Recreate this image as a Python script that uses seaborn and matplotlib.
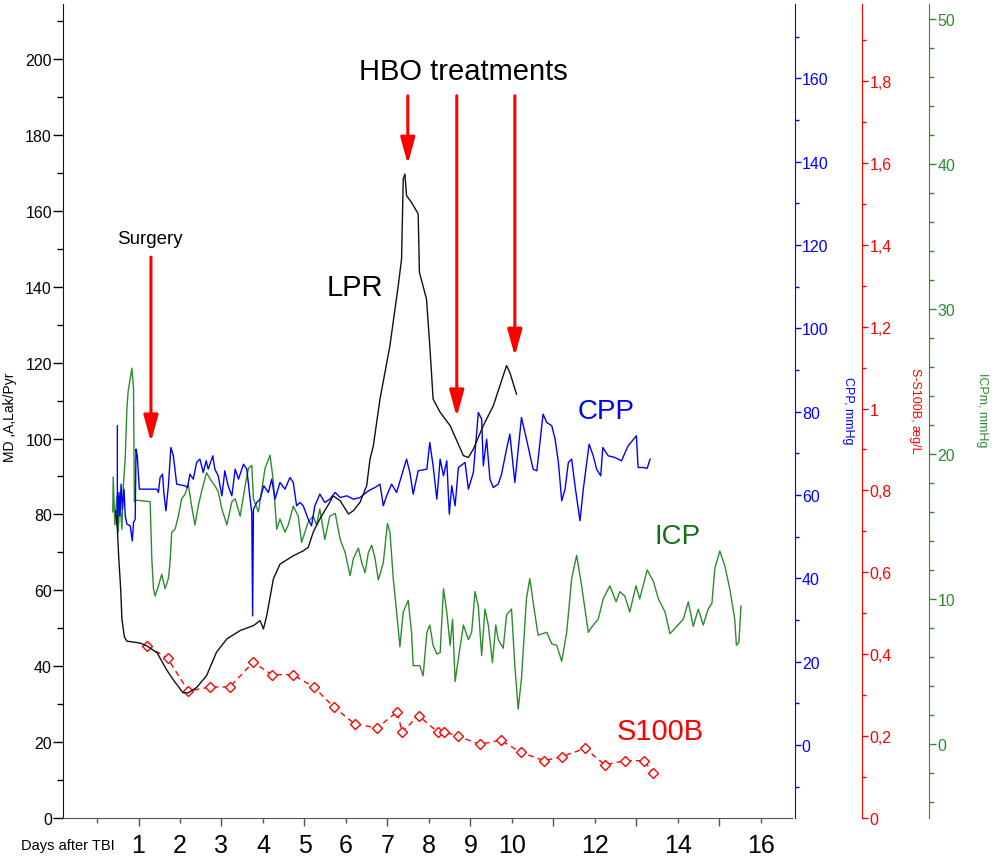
import matplotlib
matplotlib.use("Agg")
import matplotlib.pyplot as plt
import seaborn as sns
from matplotlib.ticker import MultipleLocator, FuncFormatter

plt.rcParams['font.family'] = ['Liberation Sans', 'DejaVu Sans']

# ---- values (x = days after TBI) ----
# LPR, left axis
lpr_day = [0.45, 0.49, 0.52, 0.57, 0.60, 0.66, 0.72, 1.04, 1.21, 1.45,
           1.68, 1.84, 2.07, 2.20, 2.40, 2.64, 2.88, 3.13, 3.45, 3.77,
           3.93, 4.01, 4.09, 4.25, 4.41, 4.73, 4.97, 5.09, 5.21, 5.37,
           5.61, 5.69, 5.86, 6.06, 6.18, 6.34, 6.50, 6.58, 6.66, 6.82,
           7.06, 7.26, 7.34, 7.38, 7.42, 7.46, 7.58, 7.74, 7.77, 7.94,
           8.02, 8.10, 8.27, 8.51, 8.83, 8.95, 9.07, 9.31, 9.55, 9.71,
           9.87, 9.95, 10.11]
lpr_val = [80.9, 76.2, 69.3, 60.3, 52.4, 47.7, 46.6, 46.1, 45.3, 43.5,
           39.0, 36.4, 33.0, 33.0, 34.4, 37.5, 43.7, 47.2, 49.4, 50.7,
           52.0, 49.8, 53.3, 63.0, 66.9, 69.1, 70.4, 71.3, 75.3, 78.8,
           83.2, 84.9, 83.6, 80.1, 81.0, 83.2, 87.6, 94.6, 98.1, 110.4,
           124.5, 140.3, 147.3, 168.4, 169.7, 164.0, 162.2, 159.2, 143.8, 136.8,
           124.5, 110.4, 106.9, 103.4, 95.5, 95.0, 97.2, 103.4, 108.6, 113.9,
           119.2, 117.4, 111.7]

# CPP, mmHg (blue axis)
cpp_day = [0.49, 0.49, 0.53, 0.55, 0.58, 0.61, 0.65, 0.68, 0.72, 0.80,
           0.85, 0.88, 0.92, 0.94, 0.97, 1.02, 1.44, 1.48, 1.52, 1.58,
           1.61, 1.66, 1.72, 1.78, 1.84, 1.92, 2.12, 2.18, 2.24, 2.32,
           2.40, 2.48, 2.56, 2.63, 2.68, 2.79, 2.84, 2.92, 3.01, 3.08,
           3.16, 3.25, 3.33, 3.41, 3.53, 3.61, 3.69, 3.73, 3.75, 3.77,
           3.85, 3.93, 4.02, 4.13, 4.21, 4.29, 4.41, 4.53, 4.65, 4.73,
           4.81, 4.89, 4.97, 5.09, 5.17, 5.25, 5.37, 5.49, 5.61, 5.74,
           5.86, 6.02, 6.18, 6.34, 6.54, 6.70, 6.82, 6.90, 6.98, 7.10,
           7.22, 7.34, 7.46, 7.54, 7.62, 7.74, 7.95, 8.02, 8.10, 8.19,
           8.27, 8.35, 8.43, 8.49, 8.55, 8.63, 8.71, 8.87, 8.95, 9.07,
           9.19, 9.27, 9.31, 9.39, 9.47, 9.55, 9.67, 9.75, 9.87, 9.95,
           10.07, 10.23, 10.35, 10.51, 10.60, 10.75, 10.84, 10.96, 11.04, 11.12,
           11.20, 11.28, 11.36, 11.44, 11.52, 11.64, 11.72, 11.86, 11.96, 12.04,
           12.14, 12.19, 12.32, 12.48, 12.64, 12.80, 13.00, 13.04, 13.16, 13.26,
           13.33]
cpp_val = [76.6, 52.6, 60.6, 55.0, 62.6, 56.6, 61.4, 55.0, 53.0, 52.6,
           49.0, 53.4, 54.2, 71.0, 69.4, 61.4, 61.4, 60.6, 64.2, 65.0,
           60.6, 56.2, 62.2, 71.4, 69.4, 62.6, 62.2, 61.8, 65.0, 63.8,
           67.8, 68.6, 65.4, 68.2, 66.2, 69.4, 66.2, 64.6, 59.8, 65.8,
           62.2, 59.8, 66.2, 63.8, 67.4, 66.2, 59.0, 55.8, 31.0, 56.6,
           58.2, 59.0, 62.2, 60.6, 63.8, 59.0, 63.0, 61.4, 64.2, 63.0,
           57.4, 58.2, 57.4, 54.2, 52.6, 57.4, 60.2, 58.2, 59.0, 60.6,
           59.4, 59.8, 59.0, 59.4, 61.0, 61.8, 62.6, 57.4, 59.8, 62.6,
           60.6, 64.6, 68.6, 65.4, 60.2, 65.8, 66.2, 72.6, 67.0, 59.0,
           68.6, 64.6, 68.2, 55.4, 62.2, 57.4, 66.6, 67.8, 61.4, 65.4,
           79.8, 78.2, 67.0, 73.4, 63.8, 61.8, 62.6, 65.0, 71.0, 74.6,
           63.0, 78.6, 73.4, 66.2, 65.8, 79.4, 77.4, 76.6, 73.4, 67.8,
           58.6, 61.4, 67.8, 68.6, 62.2, 53.8, 61.4, 72.2, 69.4, 66.2,
           64.6, 71.4, 69.4, 69.0, 68.2, 71.8, 74.2, 66.6, 66.6, 66.4,
           68.6]

# ICPm, mmHg (green axis)
icp_day = [0.38, 0.39, 0.43, 0.48, 0.51, 0.55, 0.60, 0.63, 0.68, 0.72,
           0.75, 0.80, 0.84, 0.88, 0.90, 0.96, 1.28, 1.32, 1.36, 1.40,
           1.48, 1.56, 1.64, 1.72, 1.76, 1.80, 1.88, 1.96, 2.04, 2.12,
           2.20, 2.28, 2.36, 2.44, 2.52, 2.64, 2.76, 2.84, 2.92, 3.01,
           3.13, 3.25, 3.33, 3.45, 3.57, 3.65, 3.73, 3.77, 3.89, 4.05,
           4.17, 4.25, 4.33, 4.41, 4.53, 4.61, 4.73, 4.85, 4.93, 5.09,
           5.21, 5.29, 5.37, 5.49, 5.61, 5.74, 5.86, 5.98, 6.10, 6.18,
           6.30, 6.38, 6.46, 6.54, 6.62, 6.70, 6.78, 6.90, 7.00, 7.06,
           7.14, 7.22, 7.30, 7.38, 7.50, 7.58, 7.62, 7.78, 7.86, 7.95,
           8.02, 8.10, 8.19, 8.27, 8.35, 8.43, 8.51, 8.57, 8.63, 8.71,
           8.83, 8.95, 9.03, 9.11, 9.19, 9.27, 9.35, 9.43, 9.53, 9.61,
           9.67, 9.79, 9.87, 9.99, 10.07, 10.15, 10.23, 10.35, 10.43, 10.51,
           10.63, 10.84, 10.96, 11.08, 11.20, 11.32, 11.44, 11.56, 11.68, 11.84,
           11.96, 12.08, 12.20, 12.36, 12.51, 12.60, 12.72, 12.84, 12.99, 13.08,
           13.26, 13.41, 13.53, 13.69, 13.81, 13.97, 14.13, 14.25, 14.37, 14.49,
           14.61, 14.73, 14.82, 14.89, 15.01, 15.13, 15.25, 15.37, 15.41, 15.47,
           15.52]
icp_val = [16.0, 18.4, 15.1, 17.1, 14.6, 16.9, 14.8, 17.6, 19.7, 23.1,
           24.3, 25.2, 25.9, 24.5, 16.7, 16.8, 16.7, 12.8, 10.7, 10.2,
           10.9, 11.7, 10.7, 11.4, 12.5, 14.6, 14.8, 15.7, 16.9, 17.2,
           17.9, 16.4, 15.1, 16.4, 17.4, 18.7, 18.1, 17.8, 17.4, 16.2,
           15.1, 16.7, 16.9, 15.7, 17.8, 19.0, 19.2, 16.9, 16.0, 19.0,
           19.9, 18.1, 14.8, 15.5, 14.6, 15.1, 16.4, 15.7, 13.9, 15.3,
           15.7, 15.1, 16.2, 14.1, 15.7, 15.9, 14.1, 13.2, 11.6, 12.8,
           13.5, 12.5, 11.8, 13.2, 13.7, 12.8, 11.3, 12.5, 15.2, 14.6,
           11.4, 9.1, 6.7, 9.1, 9.9, 7.7, 5.4, 5.4, 4.7, 7.7,
           8.2, 6.8, 6.2, 6.3, 10.7, 9.1, 6.8, 8.6, 4.3, 5.9,
           8.2, 7.2, 7.7, 10.5, 9.5, 6.1, 9.3, 8.2, 5.6, 8.2,
           7.2, 6.6, 8.9, 9.3, 5.4, 2.4, 4.5, 10.0, 11.4, 9.8,
           7.5, 7.7, 6.9, 6.8, 5.7, 7.7, 11.4, 13.0, 10.9, 7.7,
           8.2, 8.6, 10.0, 10.9, 9.8, 10.5, 10.2, 9.1, 10.9, 10.0,
           12.0, 11.2, 10.0, 9.1, 7.6, 8.1, 8.6, 9.8, 8.1, 9.3,
           8.2, 9.3, 9.7, 12.1, 13.3, 12.3, 10.7, 8.6, 6.8, 7.0,
           9.5]

# S-S100B (red axis)
s100b_day = [1.21, 1.70, 2.20, 2.72, 3.20, 3.76, 4.22, 4.72, 5.22, 5.72,
             6.21, 6.75, 7.24, 7.35, 7.75, 8.21, 8.37, 8.70, 9.22, 9.73,
             10.22, 10.78, 11.21, 11.76, 12.24, 12.72, 13.19, 13.40]
s100b_val = [0.42, 0.39, 0.31, 0.32, 0.32, 0.38, 0.35, 0.35, 0.32, 0.27,
             0.23, 0.22, 0.26, 0.21, 0.25, 0.21, 0.21, 0.20, 0.18, 0.19,
             0.16, 0.14, 0.15, 0.17, 0.13, 0.14, 0.14, 0.11]

x_major = [1, 3, 5, 7, 9, 11, 13, 15]
x_major_labels = ['1', '3', '5', '7', '9', '', '', '']
x_minor = [0, 2, 4, 6, 8, 10, 12, 14, 16]
x_minor_labels = ['', '2', '4', '6', '8', '10', '12', '14', '16']

surgery_day = 1.30
hbo_days = [7.49, 8.67, 10.07]
hbo_tips = [172.3, 105.7, 121.7]

BLUE = '#0000ff'
RED = '#ff0000'
GREEN = '#2e8b2e'

W, H = 992, 862
fig = plt.figure(figsize=(W / 100, H / 100), dpi=100)
fig.patch.set_facecolor('white')
ax = fig.add_axes([63 / W, 1 - 819 / H, (792 - 63) / W, (819 - 5) / H])
ax_cpp = ax.twinx()
ax_s = ax.twinx()
ax_icp = ax.twinx()

ax_icp.set_zorder(1)
ax_cpp.set_zorder(2)
ax_s.set_zorder(3)
ax.set_zorder(4)
for a in (ax, ax_cpp, ax_s, ax_icp):
    a.patch.set_visible(False)

# traces
sns.lineplot(x=icp_day, y=icp_val, ax=ax_icp, color=GREEN, linewidth=1.0,
             estimator=None, sort=False)
sns.lineplot(x=cpp_day, y=cpp_val, ax=ax_cpp, color=BLUE, linewidth=1.0,
             estimator=None, sort=False)
sns.lineplot(x=lpr_day, y=lpr_val, ax=ax, color='#111111', linewidth=1.0,
             estimator=None, sort=False)
sns.lineplot(x=s100b_day, y=s100b_val, ax=ax_s, color=RED, linewidth=1.0,
             marker='D', markersize=5, markerfacecolor='white',
             markeredgecolor=RED, markeredgewidth=1.0,
             estimator=None, sort=False)
ax_s.lines[-1].set_dashes([4, 3])

# limits
ax.set_xlim(-0.82, 16.75)
ax.set_ylim(0, 214.5)
ax_cpp.set_ylim(-17.5, 177.8)
ax_s.set_ylim(0, 1.988)
ax_icp.set_ylim(-5.1, 51.0)

# main axes
ax.spines[['top', 'right']].set_visible(False)
ax.spines['left'].set_color('#111111')
ax.spines['bottom'].set_color('#555555')
ax.set_xticks(x_major, labels=x_major_labels)
ax.set_xticks(x_minor, labels=x_minor_labels, minor=True)
ax.tick_params(axis='x', which='major', length=6, width=1, pad=4.5,
               labelsize=18, color='#555555')
ax.tick_params(axis='x', which='minor', length=3.6, width=1, pad=6.9,
               labelsize=18, color='#555555')
ax.yaxis.set_major_locator(MultipleLocator(20))
ax.yaxis.set_minor_locator(MultipleLocator(10))
ax.tick_params(axis='y', which='major', length=7, width=1, pad=1, labelsize=11.5)
ax.tick_params(axis='y', which='minor', length=4.5, width=1)
ax.set_xlabel('')
ax.set_ylabel('MD ,A,Lak/Pyr', fontsize=10, va='center', ha='center')
ax.yaxis.set_label_coords(-0.0727, 0.493)


def comma_fmt(v, pos):
    if abs(v - round(v)) < 1e-6:
        return str(int(round(v)))
    return f'{v:.1f}'.replace('.', ',')


# right axes
right_axes = [
    (ax_cpp, 1.004, BLUE, 20, 10, 4, 3, 'CPP, mmHg', 1.077),
    (ax_s, 1.096, RED, 0.2, 0.1, 4.5, 3, 'S-S100B, æg/L', 1.169),
    (ax_icp, 1.188, GREEN, 10, 2, 5, 3.5, 'ICPm, mmHg', 1.261),
]
for a, pos, col, maj, mnr, ln, mln, label, lx in right_axes:
    a.spines[['top', 'left', 'bottom']].set_visible(False)
    a.spines['right'].set_position(('axes', pos))
    a.spines['right'].set_color(col)
    a.yaxis.set_major_locator(MultipleLocator(maj))
    a.yaxis.set_minor_locator(MultipleLocator(mnr))
    a.tick_params(axis='y', which='major', colors=col, length=ln, width=1,
                  pad=1, labelsize=11.5)
    a.tick_params(axis='y', which='minor', colors=col, length=mln, width=1)
    a.set_ylabel(label, fontsize=9, color=col, rotation=270,
                 va='center', ha='center')
    a.yaxis.set_label_coords(lx, 0.502)
ax_s.yaxis.set_major_formatter(FuncFormatter(comma_fmt))

# annotations
arrow_kw = dict(arrowstyle='-|>,head_length=0.8,head_width=0.22', color=RED,
                lw=2.2, mutation_scale=20, shrinkA=0, shrinkB=0)
ax.annotate('', xy=(surgery_day, 99.1), xytext=(surgery_day, 147.8),
            arrowprops=arrow_kw)
for d, tip in zip(hbo_days, hbo_tips):
    ax.annotate('', xy=(d, tip), xytext=(d, 190.3), arrowprops=arrow_kw)

ax.text(1.28, 152.6, 'Surgery', fontsize=13.5, ha='center', va='center')
ax.text(8.82, 196.8, 'HBO treatments', fontsize=21, ha='center', va='center')
ax.text(6.22, 140.0, 'LPR', fontsize=21, ha='center', va='center')
ax.text(12.28, 107.2, 'CPP', fontsize=20, color=BLUE, ha='center', va='center')
ax.text(13.98, 74.2, 'ICP', fontsize=20, color='#1a6e1a', ha='center', va='center')
ax.text(13.57, 23.0, 'S100B', fontsize=21, color=RED, ha='center', va='center')

fig.text(68 / W, 1 - 846 / H, 'Days after TBI', fontsize=10.5,
         ha='center', va='center')

fig.savefig('out.png', dpi=100, facecolor='white')
